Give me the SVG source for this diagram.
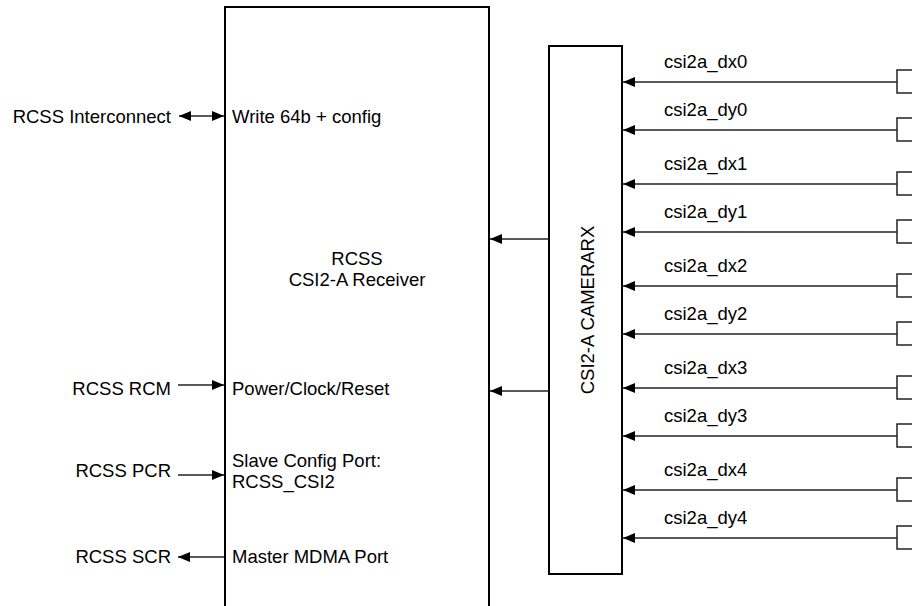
<svg xmlns="http://www.w3.org/2000/svg" width="912" height="606" viewBox="0 0 912 606">
<style>
text{font-family:"Liberation Sans",Arial,Helvetica,sans-serif;font-size:18.5px;fill:#000}
.blk{fill:#fff;stroke:#000;stroke-width:2}
.pin{fill:#fff;stroke:#222;stroke-width:1.5}
.ln{fill:none;stroke:#222;stroke-width:1.5}
</style>
<defs>
<marker id="ah" markerUnits="userSpaceOnUse" markerWidth="13" markerHeight="11" refX="12" refY="5" orient="auto-start-reverse" viewBox="0 0 13 11">
<path d="M0,0 L12,5 L0,10 z" fill="#000"/>
</marker>
</defs>

<g id="receiver">
<rect class="blk" x="225" y="7" width="264" height="610"/>
<text x="357" y="265" text-anchor="middle">RCSS</text>
<text x="357" y="286" text-anchor="middle">CSI2-A Receiver</text>
<text x="232" y="123">Write 64b + config</text>
<text x="232" y="395">Power/Clock/Reset</text>
<text x="232" y="467">Slave Config Port:</text>
<text x="232" y="488">RCSS_CSI2</text>
<text x="232" y="563">Master MDMA Port</text>
</g>

<g id="camerarx">
<rect class="blk" x="549" y="46" width="73" height="528"/>
<text transform="translate(587,310) rotate(-90)" x="0" y="6.5" text-anchor="middle">CSI2-A CAMERARX</text>
</g>

<g id="ext-left">
<text x="171" y="123" text-anchor="end">RCSS Interconnect</text>
<text x="171" y="395" text-anchor="end">RCSS RCM</text>
<text x="171" y="477" text-anchor="end">RCSS PCR</text>
<text x="171" y="563" text-anchor="end">RCSS SCR</text>
</g>

<g id="pins">
<rect class="pin" x="897" y="70" width="30" height="23"/>
<rect class="pin" x="897" y="118" width="30" height="23"/>
<rect class="pin" x="897" y="172" width="30" height="23"/>
<rect class="pin" x="897" y="220" width="30" height="23"/>
<rect class="pin" x="897" y="274" width="30" height="23"/>
<rect class="pin" x="897" y="322" width="30" height="23"/>
<rect class="pin" x="897" y="376" width="30" height="23"/>
<rect class="pin" x="897" y="424" width="30" height="23"/>
<rect class="pin" x="897" y="478" width="30" height="23"/>
<rect class="pin" x="897" y="526" width="30" height="23"/>
</g>

<g id="connectors">
<line class="ln" x1="179" y1="116" x2="224" y2="116" marker-start="url(#ah)" marker-end="url(#ah)"/>
<line class="ln" x1="178" y1="385" x2="224" y2="385" marker-end="url(#ah)"/>
<line class="ln" x1="178" y1="475" x2="224" y2="475" marker-end="url(#ah)"/>
<line class="ln" x1="224" y1="557" x2="178" y2="557" marker-end="url(#ah)"/>
<line class="ln" x1="549" y1="239" x2="490" y2="239" marker-end="url(#ah)"/>
<line class="ln" x1="549" y1="391" x2="490" y2="391" marker-end="url(#ah)"/>
<line class="ln" x1="897" y1="82" x2="623" y2="82" marker-end="url(#ah)"/>
<line class="ln" x1="897" y1="130" x2="623" y2="130" marker-end="url(#ah)"/>
<line class="ln" x1="897" y1="184" x2="623" y2="184" marker-end="url(#ah)"/>
<line class="ln" x1="897" y1="232" x2="623" y2="232" marker-end="url(#ah)"/>
<line class="ln" x1="897" y1="286" x2="623" y2="286" marker-end="url(#ah)"/>
<line class="ln" x1="897" y1="334" x2="623" y2="334" marker-end="url(#ah)"/>
<line class="ln" x1="897" y1="388" x2="623" y2="388" marker-end="url(#ah)"/>
<line class="ln" x1="897" y1="436" x2="623" y2="436" marker-end="url(#ah)"/>
<line class="ln" x1="897" y1="490" x2="623" y2="490" marker-end="url(#ah)"/>
<line class="ln" x1="897" y1="538" x2="623" y2="538" marker-end="url(#ah)"/>
<text x="664" y="68">csi2a_dx0</text>
<text x="664" y="116">csi2a_dy0</text>
<text x="664" y="170">csi2a_dx1</text>
<text x="664" y="218">csi2a_dy1</text>
<text x="664" y="272">csi2a_dx2</text>
<text x="664" y="320">csi2a_dy2</text>
<text x="664" y="374">csi2a_dx3</text>
<text x="664" y="422">csi2a_dy3</text>
<text x="664" y="476">csi2a_dx4</text>
<text x="664" y="524">csi2a_dy4</text>
</g>
</svg>
